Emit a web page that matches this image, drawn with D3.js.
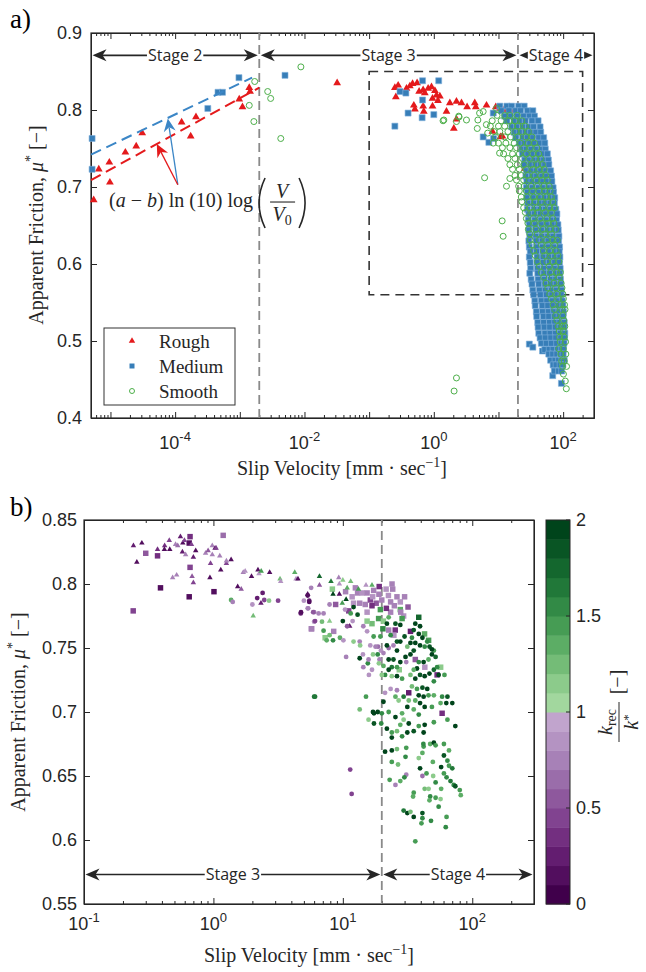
<!DOCTYPE html>
<html>
<head>
<meta charset="utf-8">
<script src="https://cdn.jsdelivr.net/npm/d3@7"></script>
<style>
  body { margin: 0; background: #fff; }
  .ax path, .ax line { stroke: #262626; stroke-width: 1; }
</style>
</head>
<body>
<script>
// ---------- panel a) data : [velocity mm/s, mu] ----------
const roughA = [
  [5.5e-6,0.683],[6.6e-6,0.723],[9.6e-6,0.732],[9.8e-6,0.706],[1.7e-5,0.745],[2.5e-5,0.753],[3.1e-5,0.770],
  [1.26e-4,0.784],[1.74e-4,0.766],[2.1e-4,0.791],[9.8e-4,0.814],[1.1e-3,0.804],[1.4e-3,0.829],[1.44e-3,0.824],
  [0.032,0.835],
  [0.25,0.829],[0.259,0.817],[0.281,0.832],[0.378,0.828],[0.426,0.831],[0.469,0.834],[0.552,0.835],[0.593,0.824],
  [0.684,0.826],[0.726,0.822],[0.817,0.828],[0.921,0.830],[1.04,0.825],[1.10,0.819],[1.24,0.818],[0.955,0.815],
  [1.16,0.812],[0.491,0.806],[0.684,0.805],[0.955,0.805],[1.57,0.798],[1.77,0.809],[2.24,0.811],[2.68,0.809],
  [3.27,0.804],[4.30,0.809],[4.46,0.804],[6.53,0.806],[9.09,0.804],[10.5,0.802],[12.2,0.800],[15.5,0.800],
  [16.8,0.799],[2.04,0.776],[2.24,0.788],[8.07,0.772],[0.70,0.798],[0.51,0.801],
  [27,0.724],[10.7,0.765],[11.5,0.766],[25.6,0.724],[24,0.753],[19,0.790],[22,0.780],[30,0.700]
];
const mediumA = [
  [5.2e-6,0.763],[5.2e-6,0.723],[3.2e-4,0.802],[4.6e-4,0.823],[5.4e-4,0.823],[9.7e-4,0.842],[5.0e-3,0.845],
  [0.67,0.838],[1.19,0.838],[0.30,0.824],[0.37,0.822],[0.67,0.813],[0.40,0.796],[0.66,0.790],[1.0,0.794],
  [0.25,0.779],[8.3,0.796],[5.8,0.765],[7.1,0.758],[8.4,0.763],
  [30,0.496],[34,0.492],[48,0.487],[69,0.455],[94,0.445]
];
// dense cloud, read row by row: [mu, velocities]
const mediumRows = [
  [0.805,[10.5,13.5,16,20.5,25]],[0.799,[11,14.5,18.5,22,28,34]],[0.792,[12.5,15.5,19.5,24.5,30,36]],
  [0.786,[13.5,17.5,21,26,33,41]],[0.778,[16,19,23.5,29,35,44]],[0.771,[17.5,21,26,31.5,38,45]],
  [0.764,[18.5,23.5,28,34,42,50]],[0.757,[21,25,30.5,36,43,52]],[0.749,[23,27,32,39,46,53]],
  [0.743,[23.5,28.5,34.5,40.5,49,57]],[0.735,[25.5,30,35.5,42,50,59]],[0.729,[25,31,37,44.5,52,60]],
  [0.721,[27,32,38.5,45,54,64]],[0.714,[26.5,33,39,47,55.5,66]],[0.707,[27.5,33,40,48.5,57,67]],
  [0.699,[27,33.5,41.5,49,59,70]],[0.693,[28,34,42,50.5,60,71]],[0.686,[27.5,34.5,42.5,51,62,74]],
  [0.679,[28.5,35,43,52,63,73]],[0.671,[28,35.5,44,53.5,64,77]],[0.665,[29.5,36,44.5,54,65,80]],
  [0.657,[29,36.5,45.5,55,67,79]],[0.651,[30,37,46,56.5,68,83]],[0.644,[29.5,37.5,46.5,57,70,84]],
  [0.636,[30.5,38,47,58,70,86]],[0.630,[29.5,38.5,47.5,58.5,71,85]],[0.622,[30,38.5,48,59,72,88]],
  [0.616,[31,39,48.5,60.5,73,87]],[0.609,[30,39.5,49,60,74,89]],[0.602,[31,39.5,49.5,61,74,88]],
  [0.594,[31.5,40,50,62,75,90]],[0.588,[30.5,40.5,50.5,62,76,89]],[0.580,[32,41,51,63.5,77,91]],
  [0.574,[33,42,52.5,64,78,92]],[0.566,[34,43,53,65.5,79,94]],[0.560,[35,44.5,55,67,81,93]],
  [0.552,[36.5,46,56,68,83,97]],[0.546,[37,47.5,58,70,84,99]],[0.538,[38.5,48,59,71.5,86,101]],
  [0.532,[39,49.5,60,73,87,100]],[0.524,[40.5,50,61.5,74,89,104]],[0.518,[41,51,62,75.5,90,103]],
  [0.510,[42,52.5,63,76,91,106]],[0.504,[44,53,64.5,77,92,105]],[0.497,[46,55,66,79.5,93,103]],
  [0.489,[52,61,70,82,95,101]],[0.483,[60,69,80,91,100]],[0.475,[64,75,85,96,104]],
  [0.469,[70,78,90,99]],[0.461,[73,85,95]]
];
const smoothA = [
  [1.7e-3,0.837],[1.4e-3,0.806],[1.65e-3,0.785],[2.7e-3,0.824],[3.0e-3,0.815],[4.3e-3,0.763],[8.8e-3,0.856],
  [1.39,0.786],[2.43,0.792],[3.2,0.787],[2.24,0.785],[9.3,0.802],[4.8,0.787],[5.8,0.798],[4.7,0.776],
  [6.5,0.781],[6.8,0.770],[8.3,0.757],[10.4,0.744],[1.43,0.787],[2.46,0.791],[5.1,0.796],[6.1,0.712],
  [15,0.711],[13.3,0.701],[11.4,0.656],[11.8,0.636],[2.24,0.452],[2.06,0.435]
];
const smoothRows = [
  [0.793,[9.5,12.5,15,19.5]],[0.786,[8,11,14.5,18,23]],[0.779,[7.5,10,12.5,16.5,20,26]],
  [0.772,[8.5,10.5,14,18.5,23,29]],[0.765,[9,12.5,15.5,20,26.5,33]],[0.757,[10,13,17.5,22,29,36]],
  [0.751,[11.5,15,19,24.5,31,39]],[0.743,[12,16.5,21,27,34,42]],[0.737,[14,18,23.5,30,37.5,45]],
  [0.729,[15,19.5,25,32.5,40,48]],[0.723,[16.5,21,27,34,43,51]],[0.715,[18,22.5,28.5,36,45,54]],
  [0.709,[19,24.5,30,38.5,47,57]],[0.701,[20.5,25,32,40,50.5,61]],[0.695,[21,27,33.5,42,52,63]],
  [0.687,[22.5,28,35,44.5,55,66]],[0.681,[23,30,37,46,58,69]],[0.673,[24.5,31,39.5,49,62,73]],
  [0.667,[26,33,41,52.5,66]],[0.659,[27,34.5,44,56,69]],[0.653,[28.5,36,46.5,58,72]],
  [0.645,[29,38,49,62.5,77]],[0.639,[30.5,40,52,66]],[0.631,[31,43,55.5,70,81]],
  [0.625,[33,46,58,74]],[0.617,[35,49.5,62,78]],[0.611,[37,52,66.5,83]],[0.603,[40,56,70,86]],
  [0.597,[43,60.5,76]],[0.589,[46,64,80,91]],[0.583,[50,68,87]],[0.575,[54.5,72,93]],
  [0.569,[58,76.5,96]],[0.561,[62,80,99]],[0.555,[66,85,101]],[0.547,[70,90.5,105]],
  [0.541,[74,95,107]],[0.533,[77,99]],[0.527,[80,102]],[0.519,[84,96,106]],[0.513,[87,100]],
  [0.505,[88,104]],[0.499,[90,109]],[0.490,[86,101]],[0.483,[92,110]],[0.474,[95,104]],
  [0.467,[98,113]],[0.457,[101]],[0.448,[108]],[0.438,[112]]
];
const roughFit = [[5e-6,0.709],[2e-3,0.829]];
const mediumFit = [[5e-6,0.742],[1.55e-3,0.842]];
const arrowTail = [1.1e-4,0.703];
const mediumTip = [7.7e-5,0.789];
const roughTip = [5.2e-5,0.756];
const eqAnchor = [9.5e-6,0.674];
const stageEdgesA = [5e-6,0.002,20,300];
const stageNamesA = ["Stage 2","Stage 3","Stage 4"];
const stageMuA = 0.871;
const zoomBoxV = [0.1,200];
const zoomBoxMu = [0.56,0.85];
const legendNames = ["Rough","Medium","Smooth"];

// ---------- panel b) data : [velocity mm/s, mu, k_rec/k*] ----------
const triB = [
  [0.241,0.830,0.25],[0.28,0.832,0.1],[0.256,0.817,0.15],[0.37,0.827,0.35],[0.42,0.830,0.35],[0.418,0.827,0.15],
  [0.456,0.834,0.45],[0.46,0.827,0.15],[0.484,0.805,0.75],[0.52,0.807,0.75],[0.51,0.831,0.75],[0.53,0.830,0.65],
  [0.556,0.837,0.2],[0.58,0.832,0.15],[0.597,0.834,0.4],[0.576,0.825,0.2],[0.61,0.823,0.7],[0.677,0.831,0.45],
  [0.684,0.806,0.5],[0.70,0.801,0.45],[0.70,0.821,0.2],[0.73,0.826,0.1],[0.87,0.824,0.7],[0.91,0.826,0.55],
  [0.94,0.805,0.1],[0.95,0.816,0.45],[0.98,0.830,0.75],[0.98,0.823,0.75],[1.03,0.828,0.2],[1.05,0.828,0.45],
  [1.12,0.822,0.75],[1.14,0.811,0.15],[1.26,0.816,0.45],[1.26,0.818,0.7],[1.37,0.819,0.15],[1.54,0.798,0.1],
  [1.64,0.796,0.55],[1.70,0.809,0.75],[1.76,0.810,0.8],[1.97,0.806,0.1],[2.03,0.775,1.2],[2.21,0.811,0.15],
  [2.25,0.808,0.8],[2.34,0.810,1.4],[2.72,0.809,0.1],[3.27,0.804,1.2],[3.31,0.802,0.8],[4.25,0.809,1.3],
  [4.35,0.804,0.8],[4.5,0.804,0.15],[2.33,0.785,0.2],
  [6.6,0.806,1.7],[6.6,0.799,0.5],[8.1,0.802,1.6],[9.3,0.805,0.7],[10.0,0.803,1.1],[9.4,0.800,0.8],
  [11.5,0.802,1.2],[10.8,0.797,1.3],[13.2,0.796,1.4],[15.1,0.799,0.8],[16.8,0.799,1.3],[8.4,0.792,1.9],
  [9.4,0.792,0.1],[10.6,0.788,1.9],[9.9,0.785,1.4],[7.9,0.771,1.1],[11.3,0.767,0.2],[5.35,0.792,0.1]
];
const sqB = [
  [0.66,0.837,0.35],[1.19,0.838,0.65],[0.65,0.832,0.1],[0.30,0.824,0.5],[0.37,0.822,0.35],[0.66,0.813,0.45],
  [0.39,0.797,0.1],[1.01,0.794,0.1],[0.65,0.790,0.1],[0.24,0.779,0.4],[5.7,0.765,0.75],
  [8.3,0.796,1.1],[8.8,0.784,0.5],[11.8,0.790,0.8],[13.0,0.793,0.75],[14.1,0.793,0.8],[15.4,0.793,0.7],
  [17.3,0.795,0.75],[19.1,0.798,0.3],[21.6,0.796,0.8],[24.3,0.796,0.75],[26.2,0.790,0.7],[27.8,0.786,0.8],
  [31.9,0.782,0.55],[29.5,0.775,0.8],[23.4,0.778,0.75],[21.7,0.781,0.3],[20.0,0.7875,0.75],[18.1,0.785,0.5],
  [16.3,0.7875,0.45],[14.9,0.784,0.7],[13.5,0.785,0.75],[12.1,0.785,0.8],[11.1,0.779,0.4],[15.4,0.778,0.8],
  [16.8,0.783,0.3],[23.4,0.786,0.75],[18.9,0.773,1.4],[20.6,0.771,1.1],[20.4,0.765,1.5],[22.6,0.764,0.7],
  [25.4,0.764,0.3],[24.8,0.760,0.8],[28.7,0.773,1.4],[27.8,0.780,1.3],[38.6,0.774,1.7],[42.8,0.761,1.3],
  [46.0,0.756,1.4],[33.3,0.763,0.25],[32.3,0.715,0.25],[27.3,0.733,1.1],[53.5,0.729,0.3],[58.5,0.699,0.3],
  [57,0.735,1.1],[36.3,0.741,0.5],[43,0.735,0.8],[7.3,0.758,1.1],[5.75,0.765,0.75],[8.5,0.763,0.7],
  [16.8,0.769,1.2],[19.5,0.780,1.4],[15.4,0.771,1.1],[10.5,0.794,0.75],[12.5,0.797,0.7],[22.5,0.791,0.8],
  [25,0.783,0.7],[19,0.792,0.75],[17,0.790,0.8],[28,0.778,0.75],[30,0.790,0.7],[24,0.800,0.7]
];
const circB = [
  [1.37,0.7875,1.3],[1.41,0.786,0.75],[2.0,0.784,0.8],[2.18,0.789,0.2],[2.40,0.793,0.2],[2.47,0.7875,0.45],
  [2.69,0.787,1.1],[3.16,0.787,0.4],[4.73,0.777,0.2],[5.69,0.797,0.7],[5.35,0.791,0.15],[5.5,0.787,0.2],
  [5.0,0.787,0.8],[5.35,0.781,0.8],[6.0,0.778,0.75],[6.0,0.7706,0.8],[6.0,0.712,1.6],[4.75,0.778,0.15],
  [5.5,0.786,0.1],[5.4,0.781,0.75],[5.9,0.778,0.5],[6.1,0.771,0.45],[6.5,0.777,0.7],[7.1,0.777,0.75],
  [7.9,0.784,0.75],[10,0.771,1.9],[10.8,0.767,0.5],[11.9,0.771,0.8],[6.9,0.7706,1.2],[7.1,0.7635,1.4],
  [7.9,0.760,1.2],[7.5,0.756,1.3],[8.4,0.756,1.5],[9.5,0.758,1.3],[10.1,0.756,0.8],[12.1,0.755,1.1],
  [13.5,0.755,0.75],[10.6,0.743,0.75],[13.5,0.742,1.9],[14.3,0.745,0.8],[14.4,0.735,0.7],[15.6,0.738,1.5],
  [15.9,0.729,0.8],[17.1,0.745,1.1],[17.3,0.759,1.4],[15.4,0.763,0.8],[14.4,0.767,0.75],[13,0.776,1.8],
  [11.5,0.777,1.4],[12.1,0.782,1.9],[10.4,0.780,0.8],[18.7,0.751,0.6],[19.7,0.748,0.8],[18.6,0.745,1.5],
  [19.2,0.741,0.75],[20.6,0.746,0.75],[22.6,0.750,0.6],[24.6,0.752,0.7],[21.9,0.752,1.9],[26.2,0.755,1.8],
  [26.2,0.748,1.9],[22.6,0.741,1.9],[24.6,0.741,1.8],[20.6,0.736,1.3],[23.9,0.735,1.6],[26.2,0.735,1.4],
  [27.8,0.739,1.9],[30.9,0.739,0.75],[30.5,0.743,1.9],[33.3,0.745,1.9],[35.3,0.748,1.8],[36.3,0.754,1.9],
  [39.5,0.752,1.9],[42.9,0.751,1.5],[46.8,0.751,1.8],[50.5,0.748,1.4],[48.8,0.745,1.9],[52.1,0.743,1.7],
  [45.9,0.741,1.3],[42.1,0.739,1.9],[38.6,0.739,1.5],[37.4,0.734,1.9],[35.3,0.733,1.3],[33.3,0.729,1.2],
  [36.3,0.726,1.9],[39.5,0.729,1.8],[42.9,0.728,1.9],[46.7,0.730,1.9],[50.5,0.733,1.7],[53.5,0.735,1.5],
  [55.0,0.729,1.9],[61,0.729,1.4],[50.5,0.724,1.5],[44.9,0.718,1.9],[41.2,0.719,1.8],[37.4,0.718,1.4],
  [34.2,0.720,1.2],[38.6,0.713,1.9],[42.1,0.712,1.9],[45.9,0.713,1.4],[50.5,0.713,1.3],[58.5,0.712,1.5],
  [64.3,0.712,1.8],[63,0.707,1.9],[70.1,0.707,1.9],[56.9,0.707,1.3],[48.8,0.704,1.4],[42.9,0.704,1.9],
  [39.5,0.707,1.9],[36.3,0.709,1.3],[32.3,0.709,1.2],[29.5,0.712,1.6],[27,0.709,1.1],[26.2,0.717,0.7],
  [23.4,0.718,0.8],[23.9,0.728,1.1],[26.2,0.728,1.9],[28.7,0.726,1.4],[22.6,0.733,1.9],[21.2,0.729,1.5],
  [20.0,0.729,1.1],[35.3,0.702,1.3],[31.5,0.704,1.9],[38.6,0.698,1.5],[36.3,0.769,1.9],[39.5,0.767,1.9],
  [35.3,0.764,1.8],[38.6,0.761,1.9],[34.2,0.758,1.5],[41.2,0.758,1.9],[44.9,0.755,1.5],[48.8,0.749,1.9],
  [27.8,0.768,1.9],[25.5,0.769,1.8],[21.9,0.769,1.9],[22.6,0.774,1.3],[23.4,0.760,1.5],[27.8,0.755,1.9],
  [30.0,0.759,1.8],[31.5,0.751,1.2],[33.3,0.754,1.9],[19,0.738,1.1],[16.8,0.733,0.8],[19.5,0.759,1.4],
  [17.9,0.751,0.7],[16.3,0.752,0.8],[13.6,0.752,1.1],[6.1,0.712,1.6],[15.1,0.712,1.4],[13.5,0.702,1.2],
  [15.8,0.741,0.75],[21.2,0.715,0.8],[25.5,0.712,1.3],[20.6,0.708,1.9],[17.4,0.699,1.9],[20,0.699,1.5],
  [22.6,0.700,1.4],[25.5,0.696,1.9],[28.7,0.699,1.3],[64.3,0.694,1.4],[74,0.689,1.9],
  [17.1,0.700,1.9],[18.6,0.700,1.9],[17.4,0.691,1.8],[15.8,0.694,1.1],[19.8,0.691,1.5],[21.9,0.687,1.9],
  [23.9,0.684,1.4],[26.2,0.685,1.2],[27.8,0.690,1.3],[29.5,0.694,1.1],[32.3,0.691,1.9],[23.9,0.680,1.9],
  [28.7,0.681,1.5],[31.5,0.684,1.9],[35.3,0.685,1.8],[38.6,0.689,1.4],[42.1,0.684,1.9],[42.9,0.690,1.9],
  [50.5,0.692,1.4],[21.2,0.669,1.9],[23.9,0.670,1.9],[26.2,0.671,1.2],[30.9,0.672,1.4],[23.9,0.661,1.4],
  [26.7,0.659,1.2],[30.5,0.665,1.5],[38.6,0.664,1.1],[39.5,0.656,1.9],[41.2,0.668,1.3],[42.1,0.673,1.4],
  [41.9,0.675,1.5],[47.3,0.675,1.3],[50.5,0.676,1.9],[52.1,0.674,1.4],[49.6,0.661,1.3],[57.5,0.657,1.9],
  [60.4,0.675,1.4],[66.1,0.670,1.3],[60.4,0.666,1.8],[64.3,0.662,1.5],[66.1,0.658,1.4],[70.1,0.656,1.6],
  [23,0.647,1.4],[25.5,0.643,0.75],[27.8,0.646,1.3],[30.9,0.651,0.7],[29.9,0.649,1.5],[41.2,0.650,0.6],
  [44.3,0.652,1.4],[49.9,0.650,1.1],[52.1,0.645,1.5],[57.5,0.640,1.3],[60.4,0.652,1.4],[63.3,0.649,1.5],
  [67.9,0.646,1.6],[71.9,0.643,1.5],[80.1,0.639,1.4],[81.5,0.635,1.3],[74,0.642,1.8],[42.9,0.640,1.2],
  [46,0.640,1.1],[35.3,0.637,1.4],[34.9,0.634,1.3],[47.3,0.634,1.5],[52.1,0.633,1.4],[46.7,0.631,1.3],
  [56.9,0.632,1.1],[55,0.626,1.5],[29.5,0.623,1.6],[31.5,0.621,1.9],[33.3,0.622,1.2],[35.3,0.618,1.9],
  [41.2,0.621,1.8],[41.2,0.617,1.5],[40.5,0.613,1.4],[48,0.615,1.5],[63.3,0.618,1.4],[62.4,0.610,1.5],
  [36.3,0.599,1.4],[11.4,0.655,0.4],[11.7,0.636,0.4]
];
const stageEdgesB = [0.1,20,300];
const stageNamesB = ["Stage 3","Stage 4"];
const stageMuB = 0.573;
const kTicks = [0,0.5,1,1.5,2];

// ---------- setup ----------
const red = "#e41a1c", blue = "#377eb8", green = "#4daf4a", ink = "#262626";
const serif = "'Liberation Serif', 'Times New Roman', serif";
const sans = "'Liberation Sans', Arial, sans-serif";

const svg = d3.select("body").append("svg").attr("width", 646).attr("height", 972);

const xA = d3.scaleLog().domain([5e-6, 300]).range([91, 594]);
const yA = d3.scaleLinear().domain([0.4, 0.9]).range([418, 33]);
const xB = d3.scaleLog().domain([0.1, 300]).range([84, 534]);
const yB = d3.scaleLinear().domain([0.55, 0.85]).range([904, 520]);
const kY = d3.scaleLinear().domain([0, 2]).range([904, 520]);

const binColors = d3.range(10).map(i => d3.interpolatePRGn(i / 9 * 0.3))
  .concat(d3.range(10).map(i => d3.interpolatePRGn(0.7 + i / 9 * 0.3)));
const kColor = k => binColors[Math.max(0, Math.min(19, Math.floor(k * 10)))];

const rowsToPts = rows => rows.flatMap(([mu, vs]) => vs.map(v => [v, mu]));
const mediumAll = mediumA.concat(rowsToPts(mediumRows));
const smoothAll = smoothA.concat(rowsToPts(smoothRows));

function drawFrame(x, y, xMajor, xLabelExp, yTicks, yFmt, tickLabelDy, yLabelPad) {
  const [xl, xr] = x.range(), [yb, yt] = y.range();
  const [d0, d1] = x.domain();
  const minor = [];
  for (let e = -7; e <= 3; e++)
    for (let m = 2; m <= 9; m++) {
      const v = m * Math.pow(10, e);
      if (v > d0 * 1.0001 && v < d1 * 0.9999) minor.push(v);
    }
  const axes = [
    [() => d3.axisBottom(x), yb], [() => d3.axisTop(x), yt]
  ];
  axes.forEach(([mk, ty]) => {
    svg.append("g").attr("class", "ax").attr("transform", `translate(0,${ty})`)
      .call(mk().tickValues(xMajor).tickSizeInner(-6).tickSizeOuter(0).tickFormat(""));
    svg.append("g").attr("class", "ax").attr("transform", `translate(0,${ty})`)
      .call(mk().tickValues(minor).tickSizeInner(-3).tickSizeOuter(0).tickFormat(""));
  });
  svg.append("g").attr("class", "ax").attr("transform", `translate(${xl},0)`)
    .call(d3.axisLeft(y).tickValues(yTicks).tickSizeInner(-6).tickSizeOuter(0).tickFormat(""));
  svg.append("g").attr("class", "ax").attr("transform", `translate(${xr},0)`)
    .call(d3.axisRight(y).tickValues(yTicks).tickSizeInner(-6).tickSizeOuter(0).tickFormat(""));
  svg.append("rect").attr("x", xl).attr("y", yt).attr("width", xr - xl).attr("height", yb - yt)
    .attr("fill", "none").attr("stroke", ink).attr("stroke-width", 1.2);

  // x tick labels 10^n
  xLabelExp.forEach(e => {
    const t = svg.append("text").attr("x", x(Math.pow(10, e))).attr("y", yb + tickLabelDy)
      .attr("text-anchor", "middle").attr("font-family", sans).attr("font-size", 18).attr("fill", ink);
    t.append("tspan").text("10");
    t.append("tspan").attr("dy", -8).attr("font-size", 13).text(e < 0 ? "-" + (-e) : e);
  });
  // y tick labels
  yTicks.forEach(v => {
    svg.append("text").attr("x", xl - yLabelPad).attr("y", y(v)).attr("dy", "0.36em")
      .attr("text-anchor", "end").attr("font-family", sans).attr("font-size", 18).attr("fill", ink)
      .text(yFmt(v));
  });
}

function yLabel(x, cy) {
  const t = svg.append("text").attr("transform", `translate(${x},${cy}) rotate(-90)`)
    .attr("text-anchor", "middle").attr("font-family", serif).attr("font-size", 20).attr("fill", ink);
  t.append("tspan").text("Apparent Friction, ");
  t.append("tspan").attr("font-style", "italic").text("μ");
  t.append("tspan").attr("dy", -8).attr("font-size", 14).text("*");
  t.append("tspan").attr("dy", 8).text(" [−]");
}

function xLabel(cx, y) {
  const t = svg.append("text").attr("x", cx).attr("y", y)
    .attr("text-anchor", "middle").attr("font-family", serif).attr("font-size", 20).attr("fill", ink);
  t.append("tspan").text("Slip Velocity [mm · sec");
  t.append("tspan").attr("dy", -8).attr("font-size", 14).text("−1");
  t.append("tspan").attr("dy", 8).text("]");
}

const headPath = "M0,0 L-14,-6 L-10,0 L-14,6 Z";
function stageArrows(x, ymu, edges, names) {
  edges.slice(0, -1).forEach((e, i) => {
    const a = x(e) + 1.5, b = x(edges[i + 1]) - 1.5;
    const g = svg.append("g");
    g.append("line").attr("x1", a + 8).attr("x2", b - 8).attr("y1", ymu).attr("y2", ymu)
      .attr("stroke", ink).attr("stroke-width", 1.6);
    g.append("path").attr("d", headPath).attr("fill", ink).attr("transform", `translate(${b},${ymu})`);
    g.append("path").attr("d", headPath).attr("fill", ink).attr("transform", `translate(${a},${ymu}) rotate(180)`);
    const bg = g.append("rect").attr("fill", "#fff");
    const t = g.append("text").attr("x", (a + b) / 2).attr("y", ymu).attr("dy", "0.35em")
      .attr("text-anchor", "middle").attr("font-family", "'Open Sans', sans-serif").attr("font-size", 16)
      .attr("fill", ink).text(names[i]);
    const bb = t.node().getBBox();
    bg.attr("x", bb.x - 1).attr("y", bb.y).attr("width", bb.width + 2).attr("height", bb.height);
  });
}

function vDashed(x, y, v) {
  svg.append("line").attr("x1", x(v)).attr("x2", x(v)).attr("y1", y.range()[0]).attr("y2", y.range()[1])
    .attr("stroke", "#8a8a8a").attr("stroke-width", 1.8).attr("stroke-dasharray", "9,5");
}

// ================= panel a =================
svg.append("text").attr("x", 10).attr("y", 28).attr("font-family", serif).attr("font-size", 27).text("a)");

drawFrame(xA, yA, d3.range(-5, 3).map(e => Math.pow(10, e)), [-4, -2, 0, 2],
  [0.4, 0.5, 0.6, 0.7, 0.8, 0.9], d3.format(".1f"), 31, 9);
yLabel(43, 225);
xLabel(342, 475);

vDashed(xA, yA, stageEdgesA[1]);
vDashed(xA, yA, stageEdgesA[2]);

svg.append("rect").attr("x", xA(zoomBoxV[0])).attr("y", yA(zoomBoxMu[1]))
  .attr("width", xA(zoomBoxV[1]) - xA(zoomBoxV[0])).attr("height", yA(zoomBoxMu[0]) - yA(zoomBoxMu[1]))
  .attr("fill", "none").attr("stroke", "#333").attr("stroke-width", 1.6).attr("stroke-dasharray", "9,6");

const tri = d3.symbol(d3.symbolTriangle, 26)();
const sq = d3.symbol(d3.symbolSquare, 36)();

svg.append("g").selectAll("path").data(roughA).join("path")
  .attr("d", tri).attr("transform", d => `translate(${xA(d[0])},${yA(d[1])})`).attr("fill", red);
svg.append("g").selectAll("path").data(mediumAll).join("path")
  .attr("d", sq).attr("transform", d => `translate(${xA(d[0])},${yA(d[1])})`)
  .attr("fill", blue).attr("stroke", "#7fb0dc").attr("stroke-width", 0.6);
svg.append("g").selectAll("circle").data(smoothAll).join("circle")
  .attr("cx", d => xA(d[0])).attr("cy", d => yA(d[1])).attr("r", 3)
  .attr("fill", "none").attr("stroke", green).attr("stroke-width", 1);

const lineA = d3.line().x(d => xA(d[0])).y(d => yA(d[1]));
svg.append("path").attr("d", lineA(mediumFit)).attr("stroke", "#3b86c6").attr("stroke-width", 2)
  .attr("stroke-dasharray", "11,6").attr("fill", "none");
svg.append("path").attr("d", lineA(roughFit)).attr("stroke", red).attr("stroke-width", 2)
  .attr("stroke-dasharray", "11,6").attr("fill", "none");

// annotation arrows
const annHead = "M0,0 L-13,-6 L-9,0 L-13,6 Z";
[[mediumTip, "#3b86c6"], [roughTip, red]].forEach(([tip, col]) => {
  const x0 = xA(arrowTail[0]), y0 = yA(arrowTail[1]), x1 = xA(tip[0]), y1 = yA(tip[1]);
  const ang = Math.atan2(y1 - y0, x1 - x0) * 180 / Math.PI;
  const len = Math.hypot(x1 - x0, y1 - y0);
  svg.append("line").attr("x1", x0).attr("y1", y0)
    .attr("x2", x0 + (x1 - x0) * (len - 9) / len).attr("y2", y0 + (y1 - y0) * (len - 9) / len)
    .attr("stroke", col).attr("stroke-width", 1.3);
  svg.append("path").attr("d", annHead).attr("fill", col)
    .attr("transform", `translate(${x1},${y1}) rotate(${ang})`);
});

// equation
const eq = svg.append("text").attr("x", xA(eqAnchor[0])).attr("y", yA(eqAnchor[1]))
  .attr("font-family", serif).attr("font-size", 20).attr("fill", ink);
eq.append("tspan").text("(");
eq.append("tspan").attr("font-style", "italic").text("a");
eq.append("tspan").text(" − ");
eq.append("tspan").attr("font-style", "italic").text("b");
eq.append("tspan").text(") ln (10) log");
const px = xA(eqAnchor[0]) + eq.node().getComputedTextLength() + 2;
const ey = yA(eqAnchor[1]);
const eqG = svg.append("g").attr("fill", ink);
eqG.append("path").attr("d", `M${px + 10},${ey - 29} Q${px - 2},${ey - 4} ${px + 10},${ey + 21}`)
  .attr("fill", "none").attr("stroke", ink).attr("stroke-width", 1.6);
eqG.append("path").attr("d", `M${px + 44},${ey - 29} Q${px + 56},${ey - 4} ${px + 44},${ey + 21}`)
  .attr("fill", "none").attr("stroke", ink).attr("stroke-width", 1.6);
eqG.append("text").attr("x", px + 27).attr("y", ey - 9).attr("text-anchor", "middle")
  .attr("font-family", serif).attr("font-size", 20).attr("font-style", "italic").text("V");
eqG.append("line").attr("x1", px + 15).attr("x2", px + 40).attr("y1", ey - 5).attr("y2", ey - 5)
  .attr("stroke", ink).attr("stroke-width", 1.1);
const v0 = eqG.append("text").attr("x", px + 27).attr("y", ey + 14).attr("text-anchor", "middle")
  .attr("font-family", serif).attr("font-size", 20);
v0.append("tspan").attr("font-style", "italic").text("V");
v0.append("tspan").attr("dy", 4).attr("font-size", 14).text("0");

stageArrows(xA, yA(stageMuA), stageEdgesA, stageNamesA);

// legend
const lg = svg.append("g").attr("transform", "translate(104,328)");
lg.append("rect").attr("width", 131).attr("height", 77).attr("fill", "#fff").attr("stroke", "#333");
legendNames.forEach((n, i) => {
  const cy = 13 + i * 25;
  const mk = lg.append("g").attr("transform", `translate(28,${cy})`);
  if (i === 0) mk.append("path").attr("d", d3.symbol(d3.symbolTriangle, 18)()).attr("fill", red);
  if (i === 1) mk.append("path").attr("d", d3.symbol(d3.symbolSquare, 25)()).attr("fill", blue);
  if (i === 2) mk.append("circle").attr("r", 2.5).attr("fill", "none").attr("stroke", green);
  lg.append("text").attr("x", 55).attr("y", cy).attr("dy", "0.35em").attr("font-family", serif)
    .attr("font-size", 19).attr("fill", ink).text(n);
});

// ================= panel b =================
svg.append("text").attr("x", 10).attr("y", 516).attr("font-family", serif).attr("font-size", 27).text("b)");

drawFrame(xB, yB, [0.1, 1, 10, 100], [-1, 0, 1, 2],
  [0.55, 0.6, 0.65, 0.7, 0.75, 0.8, 0.85], v => String(+v.toFixed(2)), 26, 7);
yLabel(25, 712);
xLabel(309, 962);

vDashed(xB, yB, stageEdgesB[1]);

const triS = d3.symbol(d3.symbolTriangle, 13)();
const sqS = d3.symbol(d3.symbolSquare, 30)();
svg.append("g").selectAll("path").data(sqB).join("path")
  .attr("d", sqS).attr("transform", d => `translate(${xB(d[0])},${yB(d[1])})`).attr("fill", d => kColor(d[2]));
svg.append("g").selectAll("path").data(triB).join("path")
  .attr("d", triS).attr("transform", d => `translate(${xB(d[0])},${yB(d[1])})`).attr("fill", d => kColor(d[2]));
svg.append("g").selectAll("circle").data(circB).join("circle")
  .attr("cx", d => xB(d[0])).attr("cy", d => yB(d[1])).attr("r", 2.4).attr("fill", d => kColor(d[2]));

stageArrows(xB, yB(stageMuB), stageEdgesB, stageNamesB);

// colorbar
const cb = svg.append("g");
cb.selectAll("rect").data(binColors).join("rect")
  .attr("x", 546).attr("width", 24)
  .attr("y", (c, i) => kY((i + 1) / 10)).attr("height", (c, i) => kY(i / 10) - kY((i + 1) / 10) + 0.5)
  .attr("fill", c => c);
cb.append("rect").attr("x", 546).attr("y", kY(2)).attr("width", 24).attr("height", kY(0) - kY(2))
  .attr("fill", "none").attr("stroke", ink).attr("stroke-width", 1);
kTicks.forEach(k => {
  cb.append("line").attr("x1", 566).attr("x2", 570).attr("y1", kY(k)).attr("y2", kY(k)).attr("stroke", ink);
  cb.append("text").attr("x", 576).attr("y", kY(k)).attr("dy", "0.36em").attr("font-family", sans)
    .attr("font-size", 18).attr("fill", ink).text(k);
});
const cl = svg.append("g").attr("transform", "translate(618,716) rotate(-90)")
  .attr("font-family", serif).attr("fill", ink);
const num = cl.append("text").attr("x", -6).attr("y", -6).attr("text-anchor", "middle").attr("font-size", 20);
num.append("tspan").attr("font-style", "italic").text("k");
num.append("tspan").attr("dy", 4).attr("font-size", 14).text("rec");
cl.append("line").attr("x1", -26).attr("x2", 14).attr("y1", 1).attr("y2", 1).attr("stroke", ink);
const den = cl.append("text").attr("x", -6).attr("y", 20).attr("text-anchor", "middle").attr("font-size", 20);
den.append("tspan").attr("font-style", "italic").text("k");
den.append("tspan").attr("dy", -6).attr("font-size", 13).text("*");
cl.append("text").attr("x", 34).attr("y", 6).attr("text-anchor", "middle").attr("font-size", 20).text("[−]");
</script>
</body>
</html>
